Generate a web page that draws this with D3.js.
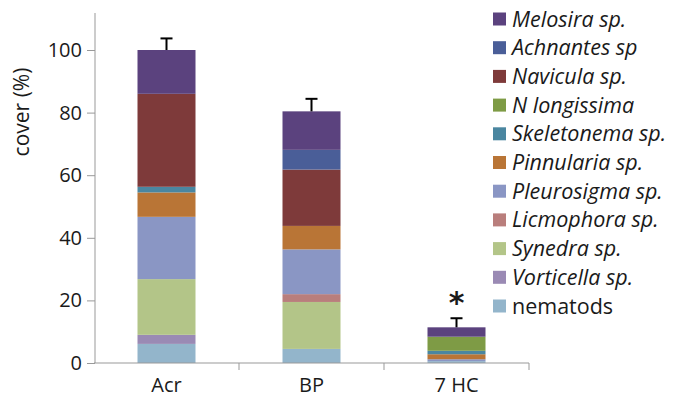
<!DOCTYPE html>
<html lang="en">
<head>
  <meta charset="UTF-8">
  <title>Cover by site</title>
  <script src="https://d3js.org/d3.v7.min.js"></script>
  <style>
    body { margin: 0; background: #fff; }
    text { font-family: "Open Sans", Lato, sans-serif; fill: #1a1a1a; }
    .tick text { font-size: 20px; }
    .legend text { font-size: 21.5px; font-style: italic; }
  </style>
</head>
<body>
  <div id="chart"></div>
  <script>
    // sites on the x axis
    const sites = ["Acr", "BP", "7 HC"];

    // taxa, bottom of stack first
    const taxa = ["nematods", "Vorticella sp.", "Synedra sp.", "Licmophora sp.", "Pleurosigma sp.",
                  "Pinnularia sp.", "Skeletonema sp.", "N longissima", "Navicula sp.", "Achnantes sp", "Melosira sp."];

    const colors = ["#93b5cb", "#9a8ab4", "#b3c588", "#b97e7c", "#8a96c4",
                    "#b97536", "#4a86a0", "#7e9b45", "#7e3a3a", "#4a5e98", "#5b427e"];

    // cover (%) per taxon, one value per site (Acr, BP, 7 HC)
    const nematods    = [6.1, 4.5, 0.6];
    const vorticella  = [2.9, 0, 0];
    const synedra     = [17.8, 15.0, 0];
    const licmophora  = [0, 2.5, 0];
    const pleurosigma = [19.9, 14.3, 0.6];
    const pinnularia  = [7.8, 7.5, 1.6];
    const skeletonema = [1.8, 0, 1.1];
    const nLongissima = [0, 0, 4.5];
    const navicula    = [29.7, 18.0, 0];
    const achnantes   = [0, 6.3, 0];
    const melosira    = [14.0, 12.3, 3.0];

    // positive error of the totals
    const errors = [3.7, 4.0, 2.9];
    const marks = ["", "", "*"];

    const yTicks = [0, 20, 40, 60, 80, 100];

    const seriesValues = [nematods, vorticella, synedra, licmophora, pleurosigma,
                          pinnularia, skeletonema, nLongissima, navicula, achnantes, melosira];

    const table = sites.map((s, i) => {
      const row = { site: s };
      taxa.forEach((t, j) => row[t] = seriesValues[j][i]);
      return row;
    });

    const W = 673, H = 407;
    const svg = d3.select("#chart").append("svg")
      .attr("width", W).attr("height", H);

    const x = d3.scaleBand()
      .domain(sites)
      .range([94, 529])
      .paddingInner(0.6)
      .paddingOuter(0.3);

    const y = d3.scaleLinear()
      .domain([0, 100])
      .range([363, 50]);

    const stack = d3.stack().keys(taxa)(table);
    const color = d3.scaleOrdinal().domain(taxa).range(colors);

    // stacked bars
    svg.append("g").selectAll("g")
      .data(stack)
      .join("g")
      .attr("fill", d => color(d.key))
      .selectAll("rect")
      .data(d => d)
      .join("rect")
      .attr("x", d => x(d.data.site))
      .attr("y", d => y(d[1]))
      .attr("width", x.bandwidth())
      .attr("height", d => y(d[0]) - y(d[1]));

    // error bars
    const totals = table.map(r => d3.sum(taxa, t => r[t]));
    const err = svg.append("g").attr("stroke", "#000").attr("stroke-width", 2);
    sites.forEach((s, i) => {
      const cx = x(s) + x.bandwidth() / 2;
      err.append("line")
        .attr("x1", cx).attr("x2", cx)
        .attr("y1", y(totals[i])).attr("y2", y(totals[i] + errors[i]));
      err.append("line")
        .attr("x1", cx - 6).attr("x2", cx + 6)
        .attr("y1", y(totals[i] + errors[i])).attr("y2", y(totals[i] + errors[i]));
      if (marks[i]) {
        svg.append("text")
          .attr("x", cx)
          .attr("y", y(totals[i] + errors[i]) - 5)
          .attr("text-anchor", "middle")
          .style("font-size", "30px")
          .style("font-weight", "bold")
          .style("font-family", "DejaVu Sans")
          .text(marks[i]);
      }
    });

    // y axis
    const yAxis = svg.append("g")
      .attr("transform", "translate(95,0)")
      .call(d3.axisLeft(y).tickValues(yTicks).tickSize(8).tickPadding(5));
    yAxis.select(".domain").remove();
    yAxis.append("line")
      .attr("x1", 0).attr("x2", 0)
      .attr("y1", y(0)).attr("y2", 13)
      .attr("stroke", "#999");
    yAxis.selectAll(".tick line").attr("stroke", "#999");

    // x axis
    const xAxis = svg.append("g")
      .attr("transform", `translate(0,${y(0)})`)
      .call(d3.axisBottom(x).tickSize(0).tickPadding(12));
    xAxis.select(".domain").attr("stroke", "#999").attr("d", "M94,0H529");
    xAxis.selectAll(".tick text").attr("dy", "0.85em");
    xAxis.selectAll(".sep")
      .data(sites.map(s => x(s) + x.bandwidth() / 2 + x.step() / 2))
      .join("line")
      .attr("x1", d => d).attr("x2", d => d)
      .attr("y1", 0).attr("y2", 7)
      .attr("stroke", "#999");

    // y axis title
    svg.append("text")
      .attr("transform", "translate(29,112) rotate(-90)")
      .attr("text-anchor", "middle")
      .style("font-size", "21px")
      .text("cover (%)");

    // legend, top entry first
    const legend = svg.append("g").attr("class", "legend");
    const items = taxa.slice().reverse();
    const row = legend.selectAll("g")
      .data(items)
      .join("g")
      .attr("transform", (d, i) => `translate(493,${19 + i * 28.7})`);
    row.append("rect")
      .attr("x", 0).attr("y", -6.5)
      .attr("width", 13).attr("height", 13)
      .attr("fill", d => color(d));
    row.append("text")
      .attr("x", 19).attr("y", 0).attr("dy", "0.35em")
      .style("font-style", d => d === "nematods" ? "normal" : "italic")
      .text(d => d);
  </script>
</body>
</html>
